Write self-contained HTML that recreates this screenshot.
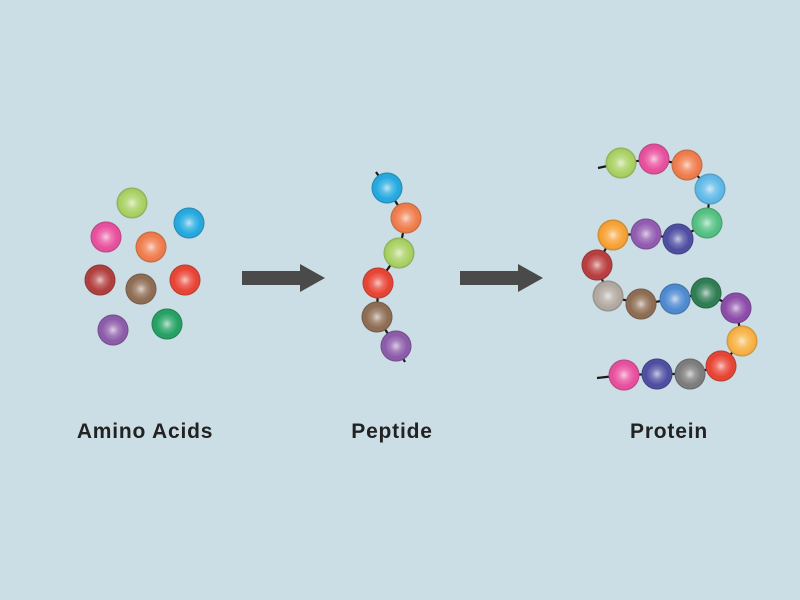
<!DOCTYPE html>
<html><head><meta charset="utf-8"><style>
html,body{margin:0;padding:0;background:#ccdee5;}
svg{display:block}
text{font-family:"Liberation Sans",Arial,sans-serif;font-weight:bold;font-size:21px;letter-spacing:0.8px;fill:#222}
</style></head><body>
<svg width="800" height="600" viewBox="0 0 800 600" xmlns="http://www.w3.org/2000/svg">
<defs>
<radialGradient id="hl" cx="0.5" cy="0.5" r="0.5">
<stop offset="0" stop-color="#fff" stop-opacity="0.7"/>
<stop offset="0.35" stop-color="#fff" stop-opacity="0.25"/>
<stop offset="0.75" stop-color="#fff" stop-opacity="0"/>
<stop offset="1" stop-color="#000" stop-opacity="0.22"/>
</radialGradient>
</defs>
<rect width="800" height="600" fill="#ccdee5"/>
<g stroke="#1a1a1a" stroke-width="2.2" fill="none">
<polyline points="376,172 387,188 406,218 399,253 378,283 377,317 396,346 405,362"/>
<polyline points="598,168 621,163 654,159 687,165 710,189 707,223 678,239 646,234 613,235 597,265 608,296 641,304 675,299 706,293 736,308 742,341 721,366 690,374 657,374 624,375 597,378"/>
</g>
<g>
<circle cx="132" cy="203" r="15.5" fill="#a8d060"/>
<circle cx="189" cy="223" r="15.5" fill="#20a8e0"/>
<circle cx="106" cy="237" r="15.5" fill="#e84c9c"/>
<circle cx="151" cy="247" r="15.5" fill="#f07a48"/>
<circle cx="100" cy="280" r="15.5" fill="#b03a3a"/>
<circle cx="141" cy="289" r="15.5" fill="#8c6a50"/>
<circle cx="185" cy="280" r="15.5" fill="#e84030"/>
<circle cx="113" cy="330" r="15.5" fill="#8a58a8"/>
<circle cx="167" cy="324" r="15.5" fill="#20a060"/>
<circle cx="387" cy="188" r="15.5" fill="#20a8e0"/>
<circle cx="406" cy="218" r="15.5" fill="#f07a48"/>
<circle cx="399" cy="253" r="15.5" fill="#a8d060"/>
<circle cx="378" cy="283" r="15.5" fill="#e84030"/>
<circle cx="377" cy="317" r="15.5" fill="#8c6a50"/>
<circle cx="396" cy="346" r="15.5" fill="#8a58a8"/>
<circle cx="621" cy="163" r="15.5" fill="#a8d060"/>
<circle cx="654" cy="159" r="15.5" fill="#e84c9c"/>
<circle cx="687" cy="165" r="15.5" fill="#f07a48"/>
<circle cx="710" cy="189" r="15.5" fill="#5cb8e8"/>
<circle cx="707" cy="223" r="15.5" fill="#50c080"/>
<circle cx="678" cy="239" r="15.5" fill="#4a4aa0"/>
<circle cx="646" cy="234" r="15.5" fill="#9058b0"/>
<circle cx="613" cy="235" r="15.5" fill="#f8a030"/>
<circle cx="597" cy="265" r="15.5" fill="#b83a3a"/>
<circle cx="608" cy="296" r="15.5" fill="#b0a8a0"/>
<circle cx="641" cy="304" r="15.5" fill="#8c6a50"/>
<circle cx="675" cy="299" r="15.5" fill="#4a88d0"/>
<circle cx="706" cy="293" r="15.5" fill="#2a7a50"/>
<circle cx="736" cy="308" r="15.5" fill="#8a48a8"/>
<circle cx="742" cy="341" r="15.5" fill="#f8b040"/>
<circle cx="721" cy="366" r="15.5" fill="#e84030"/>
<circle cx="690" cy="374" r="15.5" fill="#7a7a7a"/>
<circle cx="657" cy="374" r="15.5" fill="#4a4aa0"/>
<circle cx="624" cy="375" r="15.5" fill="#e84c9c"/>
</g>
<g fill="url(#hl)">
<circle cx="132" cy="203" r="15.5"/><circle cx="189" cy="223" r="15.5"/><circle cx="106" cy="237" r="15.5"/><circle cx="151" cy="247" r="15.5"/><circle cx="100" cy="280" r="15.5"/><circle cx="141" cy="289" r="15.5"/><circle cx="185" cy="280" r="15.5"/><circle cx="113" cy="330" r="15.5"/><circle cx="167" cy="324" r="15.5"/>
<circle cx="387" cy="188" r="15.5"/><circle cx="406" cy="218" r="15.5"/><circle cx="399" cy="253" r="15.5"/><circle cx="378" cy="283" r="15.5"/><circle cx="377" cy="317" r="15.5"/><circle cx="396" cy="346" r="15.5"/>
<circle cx="621" cy="163" r="15.5"/><circle cx="654" cy="159" r="15.5"/><circle cx="687" cy="165" r="15.5"/><circle cx="710" cy="189" r="15.5"/><circle cx="707" cy="223" r="15.5"/><circle cx="678" cy="239" r="15.5"/><circle cx="646" cy="234" r="15.5"/><circle cx="613" cy="235" r="15.5"/><circle cx="597" cy="265" r="15.5"/><circle cx="608" cy="296" r="15.5"/><circle cx="641" cy="304" r="15.5"/><circle cx="675" cy="299" r="15.5"/><circle cx="706" cy="293" r="15.5"/><circle cx="736" cy="308" r="15.5"/><circle cx="742" cy="341" r="15.5"/><circle cx="721" cy="366" r="15.5"/><circle cx="690" cy="374" r="15.5"/><circle cx="657" cy="374" r="15.5"/><circle cx="624" cy="375" r="15.5"/>
</g>
<polygon points="242,271 300,271 300,264 325,278 300,292 300,285 242,285" fill="#4a4a4a"/>
<polygon points="460,271 518,271 518,264 543,278 518,292 518,285 460,285" fill="#4a4a4a"/>
<text x="145" y="438" text-anchor="middle">Amino Acids</text>
<text x="392" y="438" text-anchor="middle">Peptide</text>
<text x="669" y="438" text-anchor="middle">Protein</text>
</svg>
</body></html>
